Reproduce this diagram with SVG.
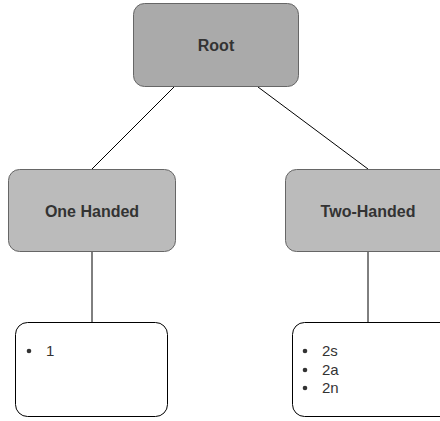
<svg xmlns="http://www.w3.org/2000/svg" width="440" height="421" viewBox="0 0 440 421">
  <style>
    .hdr { stroke: #666666; stroke-width: 1; }
    .root { fill: #aaaaaa; }
    .cat { fill: #bbbbbb; }
    .list { fill: #ffffff; stroke: #000000; stroke-width: 1; }
    .title { font-family: "Liberation Sans", Arial, sans-serif; font-size: 16px; font-weight: bold; fill: #333333; text-anchor: middle; dominant-baseline: central; }
    .item { font-family: "Liberation Sans", Arial, sans-serif; font-size: 15px; fill: #333333; }
    .dot { fill: #333333; }
    .edge { stroke: #000000; stroke-width: 1; fill: none; }
  </style>

  <g id="connectors">
    <line class="edge" x1="174" y1="87" x2="92" y2="169"/>
    <line class="edge" x1="258" y1="87" x2="368" y2="169"/>
    <line class="edge" x1="92" y1="252" x2="92" y2="322"/>
    <line class="edge" x1="368" y1="252" x2="368" y2="322"/>
  </g>

  <g id="root">
    <rect class="hdr root" x="133.5" y="3.5" width="165" height="83" rx="11"/>
    <text class="title" x="216" y="45">Root</text>
  </g>

  <g id="one-handed">
    <rect class="hdr cat" x="8.5" y="169.5" width="167" height="82" rx="11"/>
    <text class="title" x="92" y="211">One Handed</text>
  </g>

  <g id="two-handed">
    <rect class="hdr cat" x="285.5" y="169.5" width="167" height="82" rx="11"/>
    <text class="title" x="368" y="211">Two-Handed</text>
  </g>

  <g id="one-handed-list">
    <rect class="list" x="15.5" y="322.5" width="152" height="94" rx="12"/>
    <circle class="dot" cx="29" cy="351" r="2.3"/>
    <text class="item" x="46" y="356">1</text>
  </g>

  <g id="two-handed-list">
    <rect class="list" x="292.5" y="322.5" width="160" height="94" rx="12"/>
    <circle class="dot" cx="305" cy="351" r="2.3"/>
    <text class="item" x="322" y="356">2s</text>
    <circle class="dot" cx="305" cy="370" r="2.3"/>
    <text class="item" x="322" y="374.5">2a</text>
    <circle class="dot" cx="305" cy="388" r="2.3"/>
    <text class="item" x="322" y="393">2n</text>
  </g>
</svg>
